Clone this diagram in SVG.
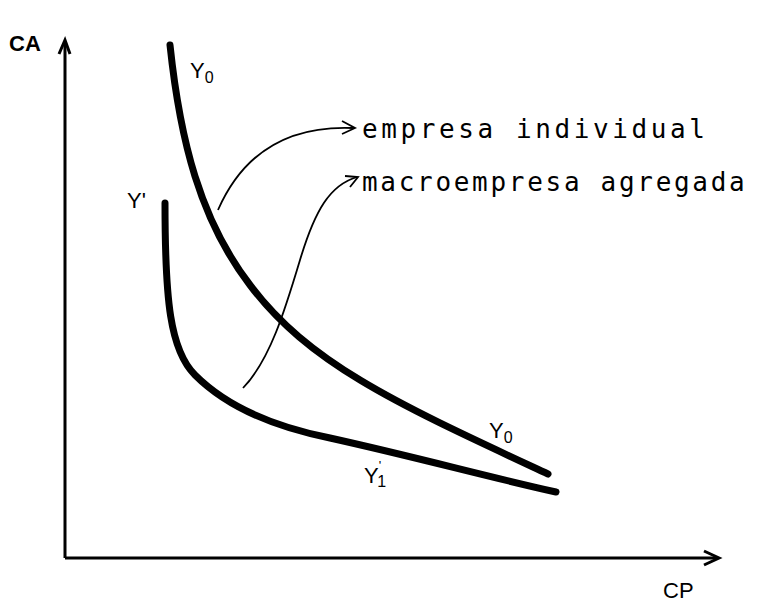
<svg xmlns="http://www.w3.org/2000/svg" width="763" height="606" viewBox="0 0 763 606">
<style>
.axis{stroke:#000;stroke-width:3;fill:none}
.curve{stroke:#000;stroke-width:7;fill:none;stroke-linecap:round}
.thin{stroke:#000;stroke-width:1.8;fill:none}
.lbl{font-family:"Liberation Sans",Arial,sans-serif;font-size:22px;fill:#000}
.ax{font-weight:bold}
.txt{font-family:"DejaVu Sans Mono","Liberation Mono",monospace;font-size:26px;fill:#000}
</style>
<rect width="763" height="606" fill="#fff"/>
<g id="axes">
<path class="axis" d="M65,558 V42 M65,558 H718"/>
<path class="axis" d="M59,54 L65,40 L70,54"/>
<path class="axis" d="M704,551 L719,558 L704,565"/>
<text class="lbl ax" x="9" y="51">CA</text>
<text class="lbl" x="663" y="598">CP</text>
</g>
<g id="curve-y0">
<path class="curve" d="M170,45 C180,140 200,220 250,285 C310,365 400,405 548,474"/>
<text class="lbl" x="190" y="78">Y<tspan font-size="16" dy="5">0</tspan></text>
<text class="lbl" x="489" y="438">Y<tspan font-size="16" dy="5">0</tspan></text>
</g>
<g id="curve-y1">
<path class="curve" d="M165,203 C165,300 170,350 195,375 C230,410 280,428 330,438 C420,458 480,475 556,492"/>
<text class="lbl" x="127" y="208">Y'</text>
<text class="lbl" x="364" y="483">Y<tspan font-size="13" dy="-13">'</tspan><tspan font-size="16" dx="-4" dy="17">1</tspan></text>
</g>
<g id="connectors">
<path class="thin" d="M218,210 C240,160 280,125 353,128"/>
<path class="thin" d="M342,121 L355,128 L342,134"/>
<path class="thin" d="M243,388 C270,360 285,310 300,260 C315,210 330,185 357,177"/>
<path class="thin" d="M345,176 L358,177 L350,187"/>
</g>
<g id="label-individual"><text class="txt" x="362" y="138" letter-spacing="3.6">empresa individual</text></g>
<g id="label-macro"><text class="txt" x="362" y="191" letter-spacing="2.7">macroempresa agregada</text></g>
</svg>
